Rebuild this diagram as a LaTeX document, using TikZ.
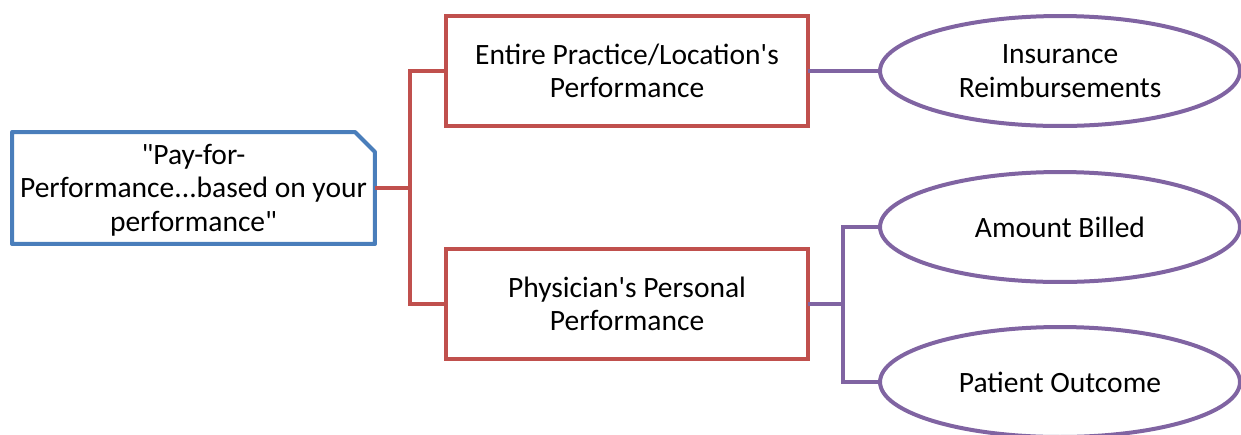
\documentclass[tikz,border=0pt]{standalone}
\usepackage{fontspec}
\setmainfont{Carlito}[Ligatures=TeXOff]
\usetikzlibrary{shapes.geometric,calc}
\definecolor{cblue}{RGB}{74,126,187}
\definecolor{cred}{RGB}{192,80,77}
\definecolor{cpurple}{RGB}{128,100,162}
\begin{document}
\begin{tikzpicture}[x=0.02cm,y=-0.02cm,
  every node/.style={font=\fontsize{16.8}{19.0}\selectfont, align=center, inner sep=0pt, outer sep=0pt},
  rootbox/.style={rectangle, minimum width=7.26cm, minimum height=2.24cm},
  redbox/.style={rectangle, draw=cred, line width=0.08cm, minimum width=7.24cm, minimum height=2.2cm},
  oval/.style={ellipse, draw=cpurple, line width=0.08cm, minimum width=7.2cm, minimum height=2.2cm},
  blueline/.style={draw=cblue, line width=0.08cm, line join=round},
  redline/.style={draw=cred, line width=0.08cm},
  purpline/.style={draw=cpurple, line width=0.08cm}]
\useasboundingbox (0,0) rectangle (1241,434);
\clip (0,0) rectangle (1241,434);
\node[rootbox] (L) at (193.5,188) {};
\node (Lt) at (193.5,190) {"Pay-for-\\Performance...based on your\\performance"};
\draw[blueline] (L.south west) -- (L.north west) -- ($(L.north east)+(-20,0)$) -- ($(L.north east)+(0,20)$) -- (L.south east) -- cycle;
\node[redbox] (R1) at (627,71) {Entire Practice/Location's\\Performance};
\node[redbox] (R2) at (627,304) {Physician's Personal\\Performance};
\node[oval] (E1) at (1060,71) {Insurance\\Reimbursements};
\node[oval] (E2) at (1060,227) {Amount Billed};
\node[oval] (E3) at (1060,382) {Patient Outcome};
\coordinate (j1) at (410,188);
\coordinate (j2) at (843,304);
\draw[redline] (L.east) -- (L.east -| j1) |- (R1.west);
\draw[redline] (L.east -| j1) |- (R2.west);
\draw[purpline] (R1.east) -- (E1.west);
\draw[purpline] (R2.east) -- (R2.east -| j2) |- (E2.west);
\draw[purpline] (R2.east -| j2) |- (E3.west);
\end{tikzpicture}
\end{document}
